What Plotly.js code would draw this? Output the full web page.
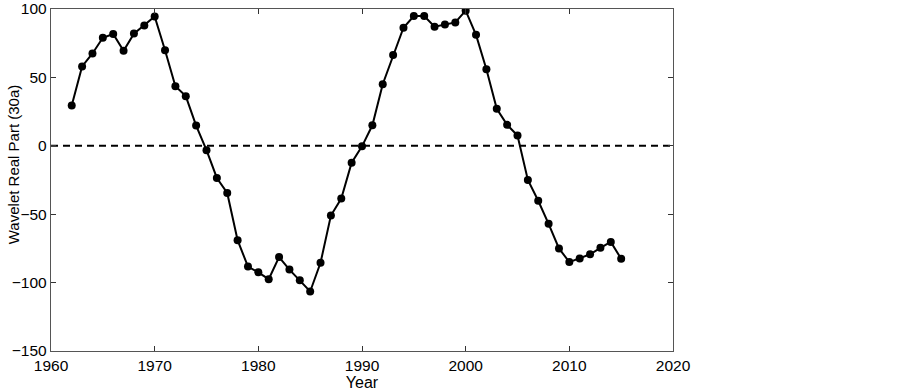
<!DOCTYPE html>
<html>
<head>
<meta charset="utf-8">
<script src="https://cdn.plot.ly/plotly-3.0.1.min.js"></script>
<style>html,body{margin:0;padding:0;background:#fff;}#chart{width:903px;height:391px;}</style>
</head>
<body>
<div id="chart"></div>
<script>
const years = [1962,1963,1964,1965,1966,1967,1968,1969,1970,1971,1972,1973,1974,1975,1976,1977,1978,1979,1980,1981,1982,1983,1984,1985,1986,1987,1988,1989,1990,1991,1992,1993,1994,1995,1996,1997,1998,1999,2000,2001,2002,2003,2004,2005,2006,2007,2008,2009,2010,2011,2012,2013,2014,2015];
const values = [29.5,58,67.5,79,81.7,69.5,82,88,94.5,69.8,43.5,36.3,14.8,-3.2,-23.5,-34.5,-69,-88.3,-92.5,-97.5,-81.3,-90.5,-98.3,-106.5,-85.5,-51,-38.6,-12.4,-0.4,15,45,66.3,86.3,94.8,94.8,87,88.7,90.2,98.8,81.1,56,27,15.3,7.5,-25,-40.2,-57,-75,-85,-82.4,-79.3,-74.6,-70.3,-82.6];
const zeroX = [1960, 2020];
const zeroY = [0, 0];
const xTicks = [1960,1970,1980,1990,2000,2010,2020];
const yTicks = [-150,-100,-50,0,50,100];
const xTitle = 'Year';
const yTitle = 'Wavelet Real Part (30a)';

const font = {family: '"Liberation Sans", Arial, sans-serif', size: 15.5, color: '#000'};
const titleFont = {family: '"Liberation Sans", Arial, sans-serif', size: 15, color: '#000'};
const axisCommon = {
  showline: true, mirror: 'ticks', linecolor: '#555', linewidth: 1.2,
  ticks: 'inside', ticklen: 5, tickcolor: '#333', tickwidth: 1,
  showgrid: false, zeroline: false, tickfont: font, ticklabelstandoff: 0
};

const traces = [
  {x: zeroX, y: zeroY, type: 'scatter', mode: 'lines',
   line: {color: '#000', width: 2, dash: '7px,5px'}, hoverinfo: 'skip', showlegend: false},
  {x: years, y: values, type: 'scatter', mode: 'lines+markers',
   line: {color: '#000', width: 2}, marker: {color: '#000', size: 8}, showlegend: false}
];

const layout = {
  width: 903, height: 391,
  margin: {l: 51, r: 230, t: 9, b: 40},
  paper_bgcolor: '#fff', plot_bgcolor: '#fff',
  font: font,
  xaxis: Object.assign({}, axisCommon, {
    range: [1960, 2020], tickvals: xTicks, ticktext: xTicks.map(String),
    title: {text: xTitle, font: {family: font.family, size: 16, color: '#000'}, standoff: 0}
  }),
  yaxis: Object.assign({}, axisCommon, {
    range: [-150, 100], tickvals: yTicks, ticktext: yTicks.map(v => v < 0 ? '\u2212' + Math.abs(v) : String(v))
  }),
  annotations: [{
    text: yTitle, xref: 'paper', yref: 'paper',
    x: (13 - 51) / 622, y: (350.5 - 164) / 341.5,
    xanchor: 'center', yanchor: 'middle', textangle: -90,
    showarrow: false, font: titleFont
  }]
};

Plotly.newPlot('chart', traces, layout, {displayModeBar: false, staticPlot: true});
</script>
</body>
</html>
